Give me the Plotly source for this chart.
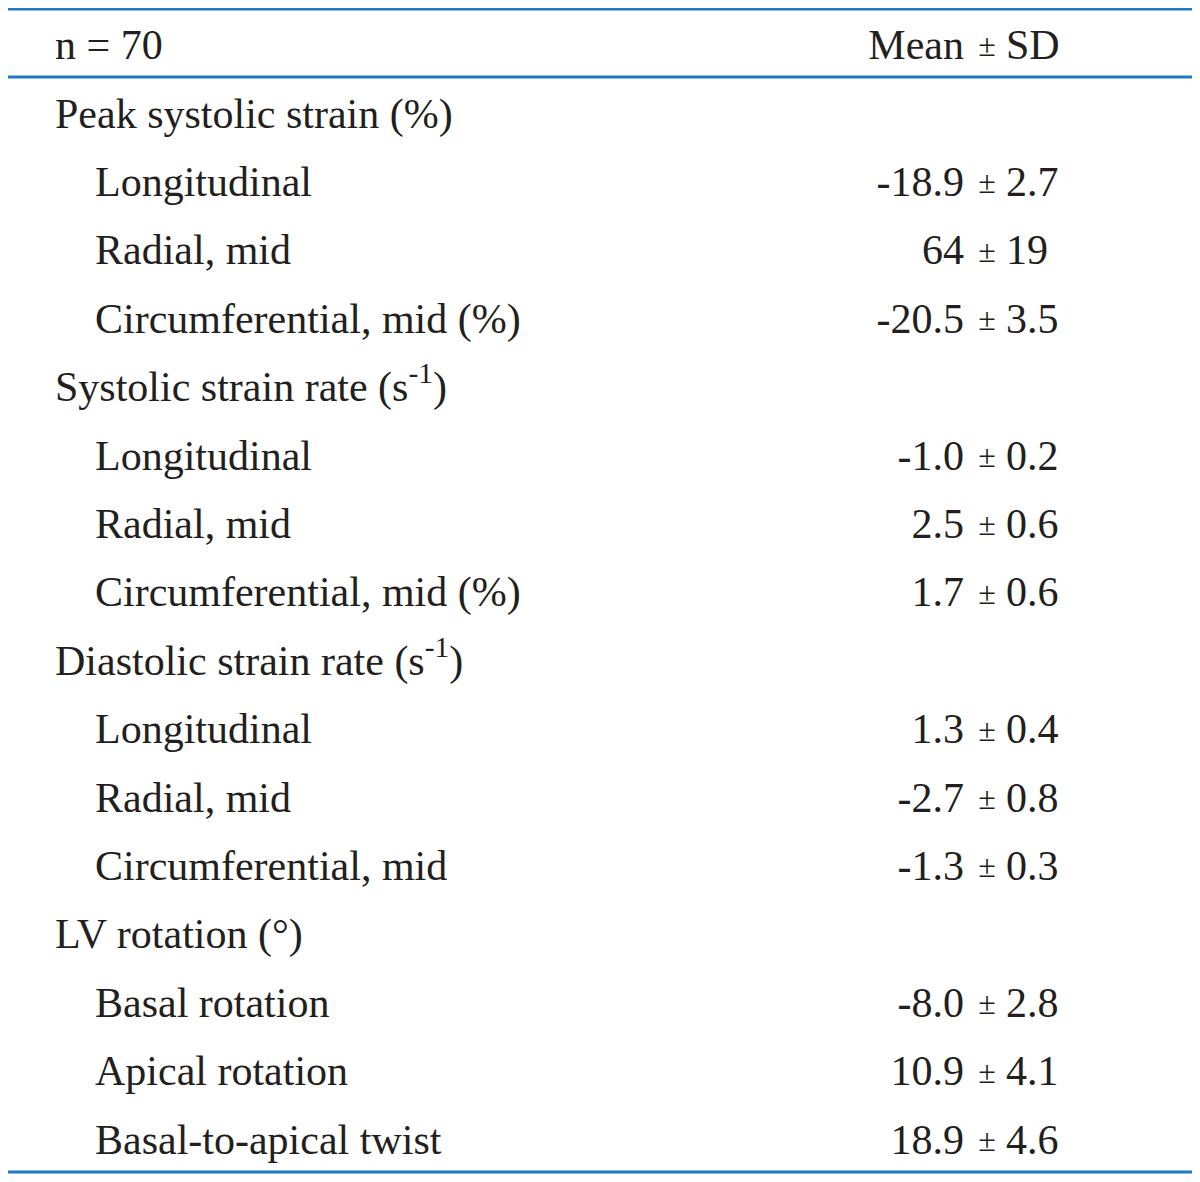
import plotly.graph_objects as go

# table content
labels = [
    "Peak systolic strain (%)",
    "Longitudinal",
    "Radial, mid",
    "Circumferential, mid (%)",
    "Systolic strain rate (s<sup>-1</sup>)",
    "Longitudinal",
    "Radial, mid",
    "Circumferential, mid (%)",
    "Diastolic strain rate (s<sup>-1</sup>)",
    "Longitudinal",
    "Radial, mid",
    "Circumferential, mid",
    "LV rotation (°)",
    "Basal rotation",
    "Apical rotation",
    "Basal-to-apical twist",
]
is_group = [True, False, False, False, True, False, False, False,
            True, False, False, False, True, False, False, False]
means = ["", "-18.9", "64", "-20.5", "", "-1.0", "2.5", "1.7",
         "", "1.3", "-2.7", "-1.3", "", "-8.0", "10.9", "18.9"]
sds = ["", "2.7", "19", "3.5", "", "0.2", "0.6", "0.6",
       "", "0.4", "0.8", "0.3", "", "2.8", "4.1", "4.6"]
header_left = "n = 70"
header_right = ("Mean", "SD")

# page is offset by the 8px body margin, so axes map straight to page pixels
PAD = 8
W, H = 1200, 1182
row_y0, row_step = 117, 68.4
header_y = 48
rule_color = "#1f7bc1"
font = dict(family="Liberation Serif, Times New Roman, serif", size=42, color="#231f20")
pm_font = dict(family=font["family"], size=32, color=font["color"])

row_y = [row_y0 + i * row_step for i in range(len(labels))]
label_x = [55 if g else 95 for g in is_group]
mean_x, pm_x, sd_x = 964, 987, 1006

fig = go.Figure()

# header
fig.add_trace(go.Scatter(x=[55], y=[header_y], mode="text", text=[header_left],
                         textposition="middle right", textfont=font, hoverinfo="skip"))
fig.add_trace(go.Scatter(x=[mean_x], y=[header_y], mode="text", text=[header_right[0]],
                         textposition="middle left", textfont=font, hoverinfo="skip"))
fig.add_trace(go.Scatter(x=[pm_x], y=[header_y], mode="text", text=["±"],
                         textposition="middle center", textfont=pm_font, hoverinfo="skip"))
fig.add_trace(go.Scatter(x=[sd_x], y=[header_y], mode="text", text=[header_right[1]],
                         textposition="middle right", textfont=font, hoverinfo="skip"))

# row labels
fig.add_trace(go.Scatter(x=label_x, y=row_y, mode="text", text=labels,
                         textposition="middle right", textfont=font, hoverinfo="skip"))

# values aligned on the ± sign
val_y = [y for y, m in zip(row_y, means) if m]
fig.add_trace(go.Scatter(x=[mean_x] * len(val_y), y=val_y, mode="text",
                         text=[m for m in means if m],
                         textposition="middle left", textfont=font, hoverinfo="skip"))
fig.add_trace(go.Scatter(x=[pm_x] * len(val_y), y=val_y, mode="text",
                         text=["±"] * len(val_y),
                         textposition="middle center", textfont=pm_font,
                         hoverinfo="skip"))
fig.add_trace(go.Scatter(x=[sd_x] * len(val_y), y=val_y, mode="text",
                         text=[s for s in sds if s],
                         textposition="middle right", textfont=font, hoverinfo="skip"))

# rules
for y in [9, 77, 1172]:
    fig.add_shape(type="line", x0=8, x1=1192, y0=y, y1=y,
                  line=dict(color=rule_color, width=3))

fig.update_layout(
    width=W - PAD, height=H - PAD,
    margin=dict(l=0, r=0, t=0, b=0),
    paper_bgcolor="white", plot_bgcolor="white",
    showlegend=False,
    xaxis=dict(range=[PAD, W], visible=False, fixedrange=True),
    yaxis=dict(range=[H, PAD], visible=False, fixedrange=True),
)

fig.write_html("out.html")
